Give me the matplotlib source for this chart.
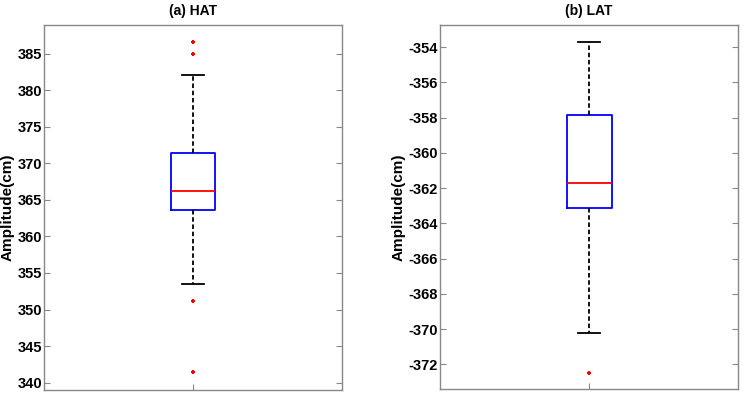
import matplotlib
matplotlib.use("Agg")
import matplotlib.pyplot as plt

titles = ["(a) HAT", "(b) LAT"]
ylabel = "Amplitude(cm)"

# box statistics: [whislo, q1, med, q3, whishi]
hat_stats = [353.45, 363.66, 366.26, 371.4, 382.05]
hat_fliers = [386.6, 385.0, 351.1, 341.4]
lat_stats = [-370.2, -363.15, -361.7, -357.87, -353.7]
lat_fliers = [-372.5]

hat_ticks = [340, 345, 350, 355, 360, 365, 370, 375, 380, 385]
lat_ticks = [-372, -370, -368, -366, -364, -362, -360, -358, -356, -354]
hat_ylim = (339.0, 388.9)
lat_ylim = (-373.42, -352.75)

fig = plt.figure(figsize=(7.43, 3.94), dpi=100)
W, H = 743, 394
axA = fig.add_axes([44 / W, 1 - 390 / H, (342 - 44) / W, (390 - 25) / H])
axB = fig.add_axes([440 / W, 1 - 389.3 / H, (738.3 - 440) / W, (389.3 - 25) / H])

def draw(ax, st, fl, ticks, ylim, title):
    d = dict(whislo=st[0], q1=st[1], med=st[2], q3=st[3], whishi=st[4], fliers=fl)
    ax.bxp([d], positions=[1], widths=0.15, showfliers=True,
           boxprops=dict(color="#0000ff", linewidth=1.3),
           medianprops=dict(color="#ff0000", linewidth=1.3),
           whiskerprops=dict(color="black", linestyle=(0, (2.5, 1.5)), linewidth=1.3),
           capprops=dict(color="black", linewidth=1.3),
           flierprops=dict(marker="+", markeredgecolor="red", markerfacecolor="red",
                           markersize=3, markeredgewidth=1.5, linestyle="none"),
           capwidths=0.075)
    ax.set_xlim(0.5, 1.5)
    ax.set_ylim(*ylim)
    ax.set_xticks([1])
    ax.set_xticklabels([""])
    ax.set_yticks(ticks)
    ax.set_yticklabels([str(t) for t in ticks], fontweight="bold", fontsize=10.5,
                       family="Liberation Sans")
    ax.tick_params(axis="both", direction="in", length=4, color="#888888",
                   right=True, top=False, pad=1.5)
    for s in ax.spines.values():
        s.set_color("#888888")
        s.set_linewidth(1.0)
    ax.set_title(title, fontweight="bold", fontsize=10, family="Liberation Sans", pad=7)
    ax.set_ylabel(ylabel, fontweight="bold", fontsize=11, family="Liberation Sans", labelpad=2)

draw(axA, hat_stats, hat_fliers, hat_ticks, hat_ylim, titles[0])
draw(axB, lat_stats, lat_fliers, lat_ticks, lat_ylim, titles[1])

fig.savefig("out.png", dpi=100)
